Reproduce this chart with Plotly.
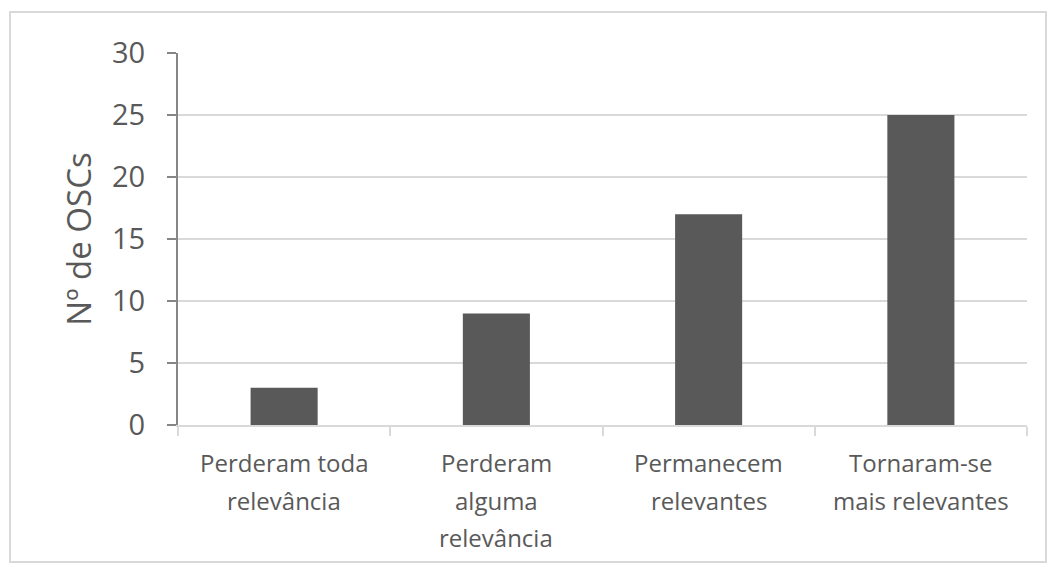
import plotly.graph_objects as go

categories = ["Perderam toda<br>relevância", "Perderam<br>alguma<br>relevância",
              "Permanecem<br>relevantes", "Tornaram-se<br>mais relevantes"]
values = [3, 9, 17, 25]
y_ticks = [0, 5, 10, 15, 20, 25, 30]

font_family = "Open Sans, Liberation Sans, sans-serif"
text_color = "#595959"

fig = go.Figure(go.Bar(x=categories, y=values, marker=dict(color="#595959", line=dict(width=0))))

L, R, T, B = 178, 30, 53, 145
W, H = 1057, 570
pw, ph = W - L - R, H - T - B

def px_x(x):
    return (x - L) / pw

def px_y(y):
    return (H - B - y) / ph

# category labels drawn line by line for Excel-like line spacing
annotations = []
line_gap = 37
first_center = 463
for cat in categories:
    for i, line in enumerate(cat.split("<br>")):
        annotations.append(dict(
            x=cat, xref="x", y=px_y(first_center + i * line_gap), yref="paper",
            text=line, showarrow=False, xanchor="center", yanchor="middle",
            font=dict(size=24, color=text_color, family=font_family),
        ))

fig.update_layout(
    width=W, height=H,
    margin=dict(l=L, r=R, t=T, b=B),
    paper_bgcolor="white", plot_bgcolor="white",
    bargap=0.684,
    showlegend=False,
    font=dict(family=font_family, color=text_color),
    xaxis=dict(
        showline=True, linecolor="#d9d9d9", linewidth=2,
        ticks="outside", tickson="boundaries", ticklen=9, tickcolor="#d9d9d9", tickwidth=2,
        showticklabels=False,
        showgrid=False,
    ),
    yaxis=dict(
        range=[0, 30], tickvals=y_ticks,
        showline=True, linecolor="#868686", linewidth=2,
        ticks="outside", ticklen=9, tickcolor="#868686", tickwidth=2,
        tickfont=dict(size=29, color=text_color),
        ticklabelstandoff=16,
        showgrid=True, gridcolor="#d9d9d9", gridwidth=2,
        zeroline=False,
        title=dict(text="Nº de OSCs", font=dict(size=33, color=text_color), standoff=10),
    ),
    annotations=annotations,
    shapes=[dict(type="rect", xref="paper", yref="paper",
                 x0=px_x(10), x1=px_x(1046), y0=px_y(562), y1=px_y(12),
                 line=dict(color="#d9d9d9", width=2), fillcolor="rgba(0,0,0,0)", layer="below")],
)

fig.write_html("out.html", config={"displayModeBar": False},
               post_script="document.body.style.margin='0';")
